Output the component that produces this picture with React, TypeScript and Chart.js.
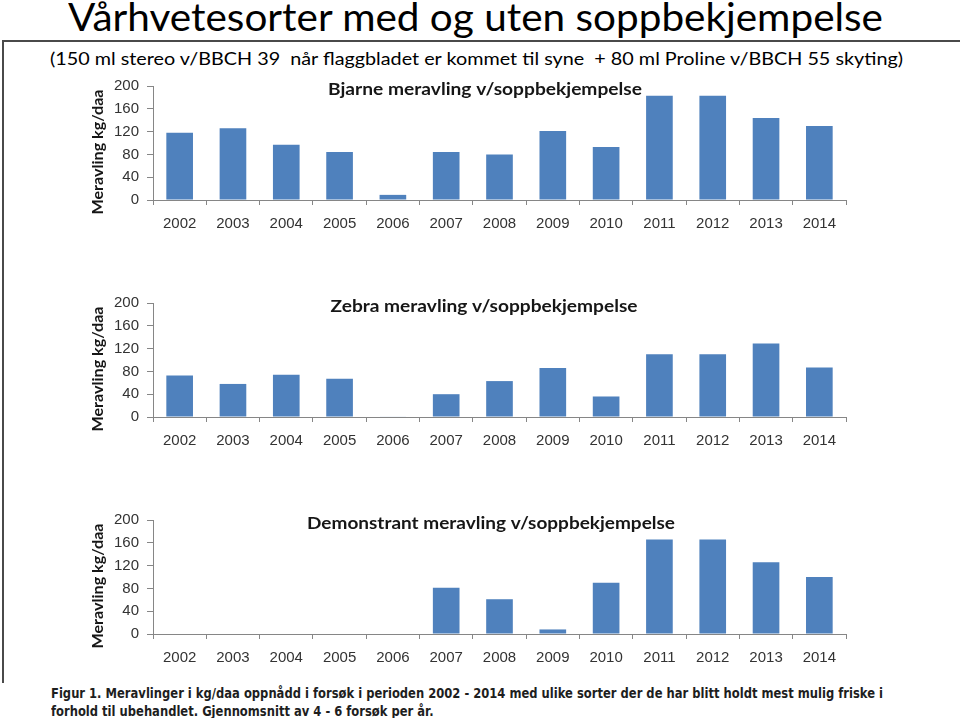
import React, { useEffect, useLayoutEffect, useRef } from "react";
import { Chart, registerables } from "chart.js";

Chart.register(...registerables);

// ---- data ----
const years = ["2002", "2003", "2004", "2005", "2006", "2007", "2008", "2009", "2010", "2011", "2012", "2013", "2014"];
const bjarne = [118, 126, 97, 84, 9, 84, 80, 121, 93, 183, 183, 144, 130];
const zebra = [73, 58, 74, 67, 1, 40, 63, 86, 36, 110, 110, 129, 87];
const demonstrant = [null, null, null, null, null, 81, 61, 8, 90, 166, 166, 126, 100];
const chartTitles = [
  "Bjarne meravling v/soppbekjempelse",
  "Zebra meravling v/soppbekjempelse",
  "Demonstrant meravling v/soppbekjempelse",
];
const yAxisTitle = "Meravling kg/daa";
const yMin = 0;
const yMax = 200;
const yStep = 40;
const mainTitle = "Vårhvetesorter med og uten soppbekjempelse";
const subTitle = "(150 ml stereo v/BBCH 39  når flaggbladet er kommet til syne  + 80 ml Proline v/BBCH 55 skyting)";
const captionLines = [
  "Figur 1. Meravlinger i kg/daa oppnådd i forsøk i perioden 2002 - 2014 med ulike sorter der de har blitt holdt mest mulig friske i",
  "forhold til ubehandlet. Gjennomsnitt av 4 - 6 forsøk per år.",
];

const BAR_COLOR = "#4F81BD";
const AXIS_COLOR = "#868686";
const TICK_COLOR = "#333333";

const overlayPlugin = {
  id: "overlay",
  afterDraw(chart: any, _args: any, opts: any) {
    const ctx = chart.ctx;
    ctx.save();
    ctx.font = "bold 17px Lato";
    ctx.fillStyle = "#161616";
    ctx.textAlign = "center";
    ctx.textBaseline = "alphabetic";
    const w = ctx.measureText(opts.title).width;
    ctx.translate(opts.titleCx, opts.titleBaseline);
    ctx.scale(opts.titleWidth / w, 1);
    ctx.fillText(opts.title, 0, 0);
    ctx.restore();

    ctx.save();
    ctx.font = "bold 15px Lato";
    ctx.fillStyle = "#161616";
    ctx.textAlign = "center";
    ctx.textBaseline = "alphabetic";
    const w2 = ctx.measureText(opts.yTitle).width;
    ctx.translate(opts.yTitleX, opts.yTitleCy);
    ctx.rotate(-Math.PI / 2);
    ctx.scale(opts.yTitleLen / w2, 1);
    ctx.fillText(opts.yTitle, 0, 0);
    ctx.restore();
  },
};

type BarProps = {
  values: (number | null)[];
  title: string;
  top: number;
  titleCx: number;
  titleWidth: number;
};

const CANVAS_LEFT = 80;
const CANVAS_W = 790;
const CANVAS_H = 171;

function BarChart({ values, title, top, titleCx, titleWidth }: BarProps) {
  const ref = useRef<HTMLCanvasElement>(null);
  useEffect(() => {
    if (!ref.current) return;
    const tickFont = { family: "'Liberation Sans', Arial, sans-serif", size: 15 };
    const chart = new Chart(ref.current, {
      type: "bar",
      data: {
        labels: years,
        datasets: [
          {
            data: values as any,
            backgroundColor: BAR_COLOR,
            borderWidth: 0,
            barPercentage: 1,
            categoryPercentage: 0.5,
          },
        ],
      },
      options: {
        responsive: false,
        animation: false,
        layout: { padding: { top: 0, right: 24, bottom: 0, left: 0 } },
        plugins: {
          legend: { display: false },
          tooltip: { enabled: false },
          title: { display: false },
          overlay: {
            title,
            titleCx: titleCx - CANVAS_LEFT,
            titleBaseline: 26,
            titleWidth,
            yTitle: yAxisTitle,
            yTitleX: 23,
            yTitleCy: 83,
            yTitleLen: 125,
          },
        } as any,
        scales: {
          x: {
            grid: {
              display: true,
              drawOnChartArea: false,
              drawTicks: true,
              tickLength: 5,
              color: AXIS_COLOR,
              offset: true,
            },
            border: { display: true, color: AXIS_COLOR, width: 1 },
            ticks: { font: tickFont, color: TICK_COLOR, padding: 10, maxRotation: 0, autoSkip: false },
            afterFit: (s: any) => {
              s.height = 40;
            },
          },
          y: {
            min: yMin,
            max: yMax,
            ticks: { stepSize: yStep, font: tickFont, color: TICK_COLOR, padding: 8 },
            grid: { drawOnChartArea: false, drawTicks: true, tickLength: 6, color: AXIS_COLOR },
            border: { display: true, color: AXIS_COLOR, width: 1 },
            afterFit: (s: any) => {
              s.width = 73;
            },
          },
        },
      },
      plugins: [overlayPlugin],
    });
    return () => chart.destroy();
  }, [values, title, titleCx, titleWidth]);
  return (
    <canvas
      ref={ref}
      width={CANVAS_W}
      height={CANVAS_H}
      style={{ position: "absolute", left: CANVAS_LEFT, top, width: CANVAS_W, height: CANVAS_H }}
    />
  );
}

function FitText({
  lines,
  left,
  top,
  width,
  style,
}: {
  lines: string[];
  left: number;
  top: number;
  width: number;
  style: React.CSSProperties;
}) {
  const boxRef = useRef<HTMLDivElement>(null);
  const firstRef = useRef<HTMLSpanElement>(null);
  useLayoutEffect(() => {
    const fit = () => {
      const box = boxRef.current;
      const first = firstRef.current;
      if (!box || !first) return;
      box.style.transform = "none";
      const w = first.getBoundingClientRect().width;
      if (w > 0) box.style.transform = `scaleX(${width / w})`;
    };
    fit();
    if ((document as any).fonts && (document as any).fonts.ready) {
      (document as any).fonts.ready.then(fit);
    }
  }, [lines, width]);
  return (
    <div
      ref={boxRef}
      style={{ position: "absolute", left, top, transformOrigin: "0 0", whiteSpace: "pre", ...style }}
    >
      {lines.map((l, i) => (
        <div key={i}>
          <span ref={i === 0 ? firstRef : undefined}>{l}</span>
        </div>
      ))}
    </div>
  );
}

export default function App() {
  const series = [bjarne, zebra, demonstrant];
  const tops = [69, 286, 503];
  const titleCenters = [485, 484, 491];
  const titleWidths = [314, 307, 368];
  return (
    <div
      style={{
        position: "absolute",
        left: 0,
        top: 0,
        width: 960,
        height: 718,
        background: "#ffffff",
        overflow: "hidden",
      }}
    >
      <FitText
        lines={[mainTitle]}
        left={68}
        top={-2.6}
        width={815}
        style={{ fontFamily: "Lato, sans-serif", fontSize: 39, lineHeight: "39px", color: "#000" }}
      />
      <div style={{ position: "absolute", left: 3, top: 40, width: 957, height: 2, background: "#4a4a4a" }} />
      <div style={{ position: "absolute", left: 2, top: 40, width: 2, height: 643, background: "#4a4a4a" }} />
      <FitText
        lines={[subTitle]}
        left={50}
        top={49.5}
        width={853}
        style={{ fontFamily: "Lato, sans-serif", fontSize: 17.5, lineHeight: "17.5px", color: "#000" }}
      />
      {series.map((s, i) => (
        <BarChart
          key={i}
          values={s}
          title={chartTitles[i]}
          top={tops[i]}
          titleCx={titleCenters[i]}
          titleWidth={titleWidths[i]}
        />
      ))}
      <FitText
        lines={captionLines}
        left={51}
        top={684}
        width={832}
        style={{
          fontFamily: "'DejaVu Sans', sans-serif",
          fontWeight: "bold",
          fontSize: 14,
          lineHeight: "18px",
          color: "#1e1e1e",
        }}
      />
    </div>
  );
}
